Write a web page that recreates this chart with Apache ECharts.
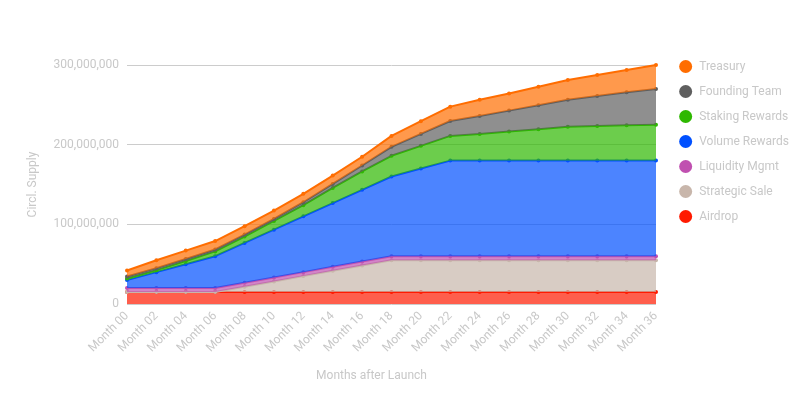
<!DOCTYPE html>
<html>
<head>
<meta charset="utf-8">
<script src="https://cdn.jsdelivr.net/npm/echarts@6/dist/echarts.min.js"></script>
<style>html,body{margin:0;padding:0;background:#fff}#c{width:810px;height:405px}</style>
</head>
<body>
<div id="c"></div>
<script>
var months = ['Month 00','Month 02','Month 04','Month 06','Month 08','Month 10','Month 12','Month 14','Month 16','Month 18','Month 20','Month 22','Month 24','Month 26','Month 28','Month 30','Month 32','Month 34','Month 36'];
// values in millions of tokens
var airdrop   = [15,15,15,15,15,15,15,15,15,15,15,15,15,15,15,15,15,15,15];
var strategic = [0,0,0,0,6.67,13.33,20,26.67,33.33,40,40,40,40,40,40,40,40,40,40];
var liquidity = [5,5,5,5,5,5,5,5,5,5,5,5,5,5,5,5,5,5,5];
var volume    = [10,20,30,40,50,60,70,80,90,100,110,120,120,120,120,120,120,120,120];
var staking   = [2,2.5,4,6,8,11,14,19,23,26,28.5,31,33.5,36.5,39.5,42.5,43.5,44.5,45];
var founding  = [2.5,2.5,2.5,2.5,2.5,2.5,3.75,5,7.5,11.25,15,18.75,22.5,26.25,30,33.75,37.5,41.25,45];
var treasury  = [7.5,10,10.5,10.5,10.5,10.5,10.5,10.5,11,13.75,16,18,20.5,21.5,23.25,25,26.5,28,30];
var yTicks = [0,100000000,200000000,300000000];

function toUnits(a){ return a.map(function(v){ return Math.round(v*1e6); }); }

var seriesDefs = [
  {name:'Airdrop', data:airdrop, color:'#ff1a00'},
  {name:'Strategic Sale', data:strategic, color:'#c8b6ab'},
  {name:'Liquidity Mgmt', data:liquidity, color:'#c050b0'},
  {name:'Volume Rewards', data:volume, color:'#0050ff'},
  {name:'Staking Rewards', data:staking, color:'#2eb800'},
  {name:'Founding Team', data:founding, color:'#5f5f5f'},
  {name:'Treasury', data:treasury, color:'#ff6d00'}
];

var series = seriesDefs.map(function(d, i){
  return {
    name: d.name, type:'line', stack:'supply', data: toUnits(d.data),
    symbol:'circle', symbolSize:4, showSymbol:true,
    lineStyle:{width:2, color:d.color},
    itemStyle:{color:d.color},
    areaStyle:{color:d.color, opacity:0.7},
    z: 2 + i
  };
});

var chart = echarts.init(document.getElementById('c'), null, {renderer:'canvas'});
chart.setOption({
  animation:false,
  textStyle:{fontFamily:'Roboto'},
  grid:{left:127, right:154, top:65, bottom:101},
  legend:{
    orient:'vertical', right:16, top:55, itemGap:12,
    icon:'circle', itemWidth:13, itemHeight:13,
    data:['Treasury','Founding Team','Staking Rewards','Volume Rewards','Liquidity Mgmt','Strategic Sale','Airdrop'],
    textStyle:{color:'#c8c8c8', fontSize:12, fontFamily:'Roboto', padding:[0,0,0,2]}
  },
  xAxis:{
    type:'category', data:months, boundaryGap:false,
    name:'Months after Launch', nameLocation:'middle', nameGap:66,
    nameTextStyle:{color:'#c8c8c8', fontSize:12, fontFamily:'Roboto', padding:[0,40,0,0]},
    axisLine:{show:false}, axisTick:{show:false},
    axisLabel:{rotate:45, color:'#c8c8c8', fontSize:12, margin:10, interval:0, fontFamily:'Roboto'},
    splitLine:{show:false}
  },
  yAxis:{
    type:'value', min:0, max:300000000, interval:100000000,
    name:'Circl. Supply', nameLocation:'middle', nameGap:88,
    nameTextStyle:{color:'#c8c8c8', fontSize:12, fontFamily:'Roboto'},
    axisLine:{show:false}, axisTick:{show:false},
    axisLabel:{color:'#c8c8c8', fontSize:12, margin:8, fontFamily:'Roboto',
      formatter:function(v){ return v.toLocaleString('en-US'); }},
    splitLine:{lineStyle:{color:'#cccccc', width:1}}
  },
  series: series
});
</script>
</body>
</html>
